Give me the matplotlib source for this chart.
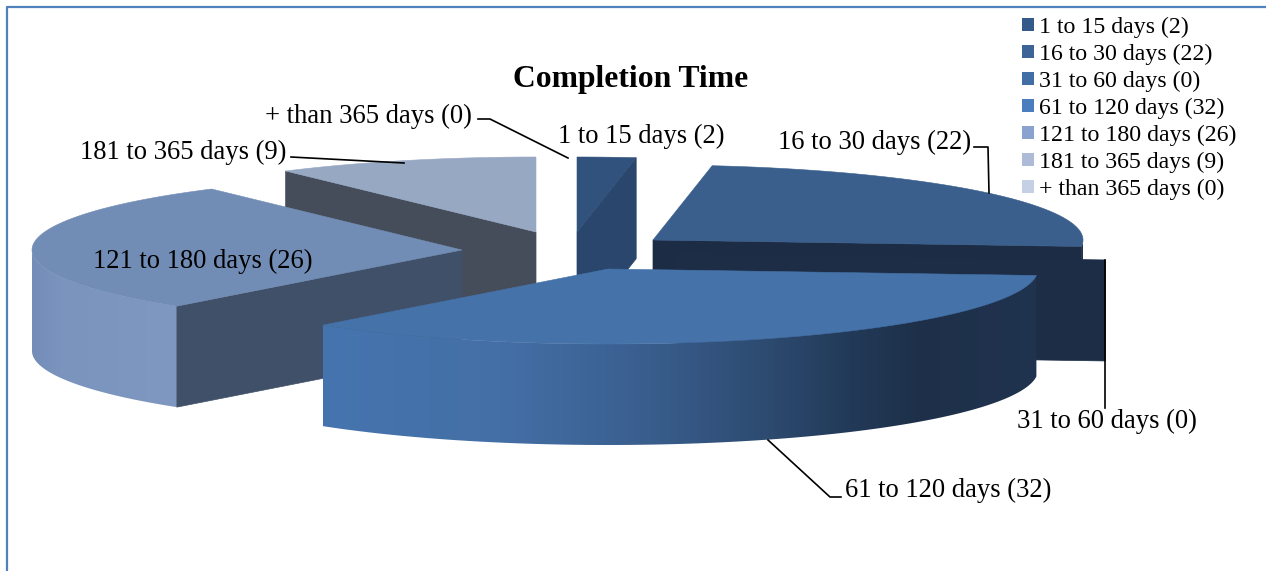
import numpy as np
import matplotlib
matplotlib.use('Agg')
import matplotlib.pyplot as plt
from matplotlib.colors import to_rgb
from matplotlib.patches import Patch, Polygon

plt.rcParams['font.family'] = ['Liberation Serif', 'DejaVu Serif']

categories = ['1 to 15 days', '16 to 30 days', '31 to 60 days', '61 to 120 days',
              '121 to 180 days', '181 to 365 days', '+ than 365 days']
counts = [2, 22, 0, 32, 26, 9, 0]
title = 'Completion Time'

legend_colors = ['#335a89', '#3c6496', '#426ea6', '#4a7ebe', '#8aa3ce', '#adbbd9', '#c6d0e4']
top_colors = ['#31527c', '#3a5f8c', '#3d6699', '#4572a8', '#728db5', '#97a8c3', '#c6d0e4']
face_colors = ['#2a466c', '#1b2c44', '#1c2d45', '#1f3048', '#3f5068', '#454c5a', '#454c5a']

# exploded slice apexes, pixel space
apex_x = [577, 653, 677, 608, 462, 536, 560]
apex_y = [232, 240, 253.5, 269, 250, 232, 225]
RX, RY = 430, 75
DEPTH = 101

# shading of the outer wall along the horizontal position
rim_x = [20, 60, 175, 322, 500, 640, 760, 850, 920, 1040, 1090]
rim_c = ['#6f8ab5', '#7a94be', '#7f98c2', '#4674ae', '#446fa6', '#3a5f8f', '#2e4c72', '#223a58',
         '#1e3049', '#20334f', '#20334f']
rim_rgb = np.array([to_rgb(c) for c in rim_c])

# drawing order, back to front
draw_order = [5, 6, 0, 1, 2, 4, 3]


def rim_points(k, ang):
    t = np.radians(ang)
    return apex_x[k] + RX*np.sin(t), apex_y[k] - RY*np.cos(t)


def cut_face(k, ang, z):
    ex, ey = rim_points(k, ang)
    ax0, ay0 = apex_x[k], apex_y[k]
    ax.add_patch(Polygon([(ax0, ay0), (ex, ey), (ex, ey+DEPTH), (ax0, ay0+DEPTH)], closed=True,
                         fc=face_colors[k], ec=face_colors[k], lw=0.5, zorder=z))


fig = plt.figure(figsize=(12.66, 5.71), dpi=100)
ax = fig.add_axes([0, 0, 1, 1])

edges = np.concatenate([[0], np.cumsum(counts)]) / sum(counts) * 360

z = 2
for k in draw_order:
    a0, a1 = edges[k], edges[k+1]

    # side wall, only the part that faces the viewer
    lo, hi = max(a0, 90), min(a1, 270)
    if hi > lo:
        ang = np.linspace(lo, hi, 200)
        x, y = rim_points(k, ang)
        wall = Polygon(list(zip(x, y)) + list(zip(x[::-1], y[::-1]+DEPTH)), closed=True,
                       fc='none', ec='none', transform=ax.transData)
        ax.add_patch(wall)
        xs = np.linspace(x.min(), x.max(), 256)
        grad = np.stack([np.interp(xs, rim_x, rim_rgb[:, j]) for j in range(3)], axis=-1)[None, :, :]
        img = ax.imshow(grad, extent=(xs[0], xs[-1], y.max()+DEPTH, y.min()), aspect='auto',
                        interpolation='bilinear', zorder=z)
        img.set_clip_path(wall)
    z += 1

    # cut faces: end of the slices on the right, start of those on the left
    if a1 < 180:
        cut_face(k, a1, z)
    if 180 < a0 < 360 and counts[k] > 0:
        cut_face(k, a0, z)
    z += 1

    # top of the slice
    if a1 > a0:
        x, y = rim_points(k, np.linspace(a0, a1, 200))
        pts = [(apex_x[k], apex_y[k])] + list(zip(x, y))
        ax.add_patch(Polygon(pts, closed=True, fc=top_colors[k], ec=top_colors[k], lw=0.4, zorder=z))
    z += 1

ax.set_xlim(0, 1266)
ax.set_ylim(571, 0)
ax.axis('off')

# chart border, only top and left fall inside the frame
ax.plot([7, 7, 1266], [571, 7, 7], color='#4f81bd', lw=1.6, solid_capstyle='butt', zorder=1)

# slice labels and leader lines
labels = [f'{c} ({v})' for c, v in zip(categories, counts)]
label_pos = [(641, 136), (875, 142), (1107, 421), (948, 490), (203, 261), (183, 152), (368, 116)]
for s, (lx, ly) in zip(labels, label_pos):
    ax.text(lx, ly, s, ha='center', va='center', fontsize=19.2, color='black', zorder=z+2)

leaders = [
    ([478, 490, 568], [119, 119, 158]),
    ([291, 404], [157, 163]),
    ([974, 988, 989], [147, 147, 193]),
    ([1105, 1105], [260, 408]),
    ([768, 830, 841], [440, 497, 497]),
]
for lx, ly in leaders:
    ax.plot(lx, ly, color='black', lw=1.2, zorder=z+1)

ax.text(631, 80, title, ha='center', va='center', fontsize=22.8, fontweight='bold', zorder=z+2)

handles = [Patch(facecolor=c, edgecolor='none', label=s) for c, s in zip(legend_colors, labels)]
ax.legend(handles=handles, loc='upper left', bbox_to_anchor=(1005, 0),
          bbox_transform=ax.transData, frameon=False, fontsize=17.2, borderpad=0.2,
          handlelength=0.5, handleheight=0.5, handletextpad=0.21, labelspacing=0.245)

fig.savefig('out.png', dpi=100, facecolor='white')
